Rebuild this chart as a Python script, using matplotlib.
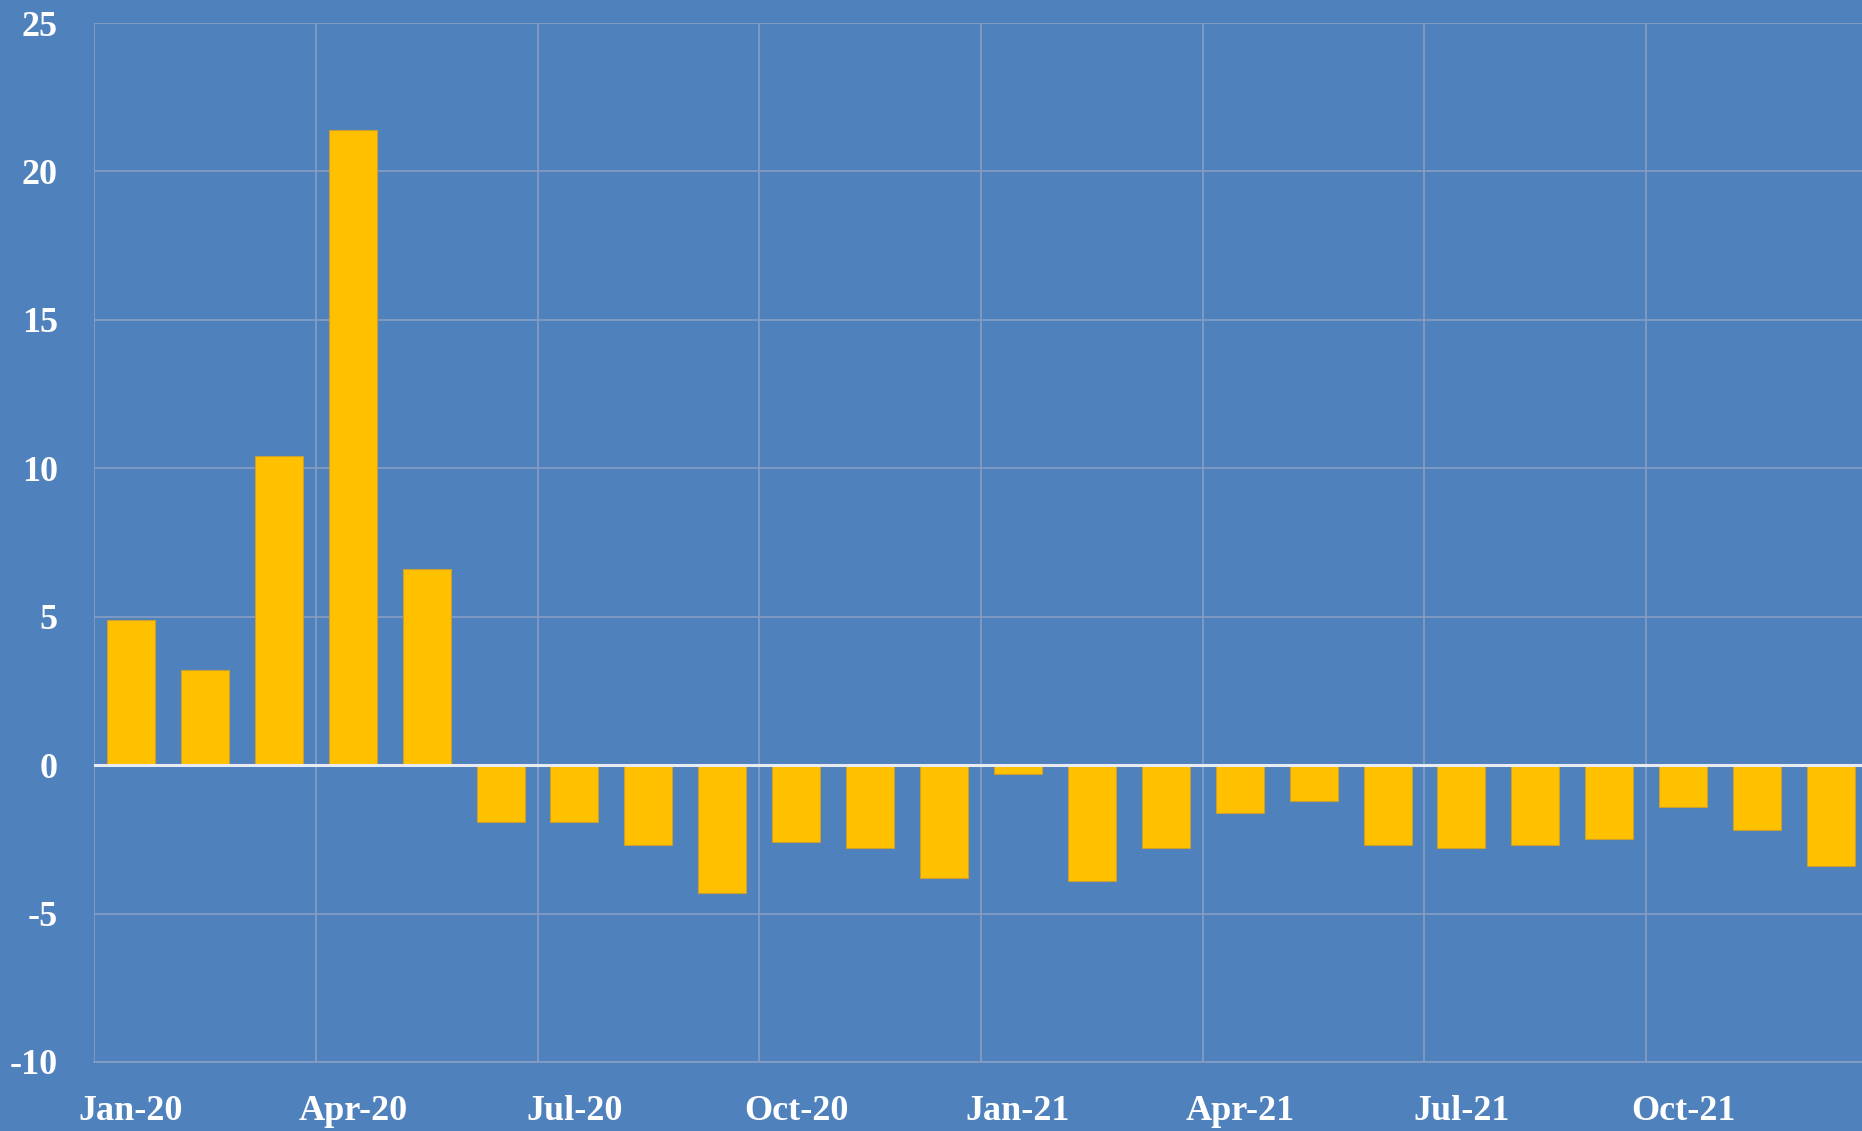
import matplotlib.pyplot as plt
import numpy as np

# monthly values, Jan-20 .. Dec-21
months = ["Jan-20", "Feb-20", "Mar-20", "Apr-20", "May-20", "Jun-20",
          "Jul-20", "Aug-20", "Sep-20", "Oct-20", "Nov-20", "Dec-20",
          "Jan-21", "Feb-21", "Mar-21", "Apr-21", "May-21", "Jun-21",
          "Jul-21", "Aug-21", "Sep-21", "Oct-21", "Nov-21", "Dec-21"]
values = [4.9, 3.2, 10.4, 21.4, 6.6, -1.9,
          -1.9, -2.7, -4.3, -2.6, -2.8, -3.8,
          -0.3, -3.9, -2.8, -1.6, -1.2, -2.7,
          -2.8, -2.7, -2.5, -1.4, -2.2, -3.4]
y_ticks = [-10, -5, 0, 5, 10, 15, 20, 25]

bg = "#4F81BD"
plt.rcParams['font.family'] = ['Liberation Serif', 'DejaVu Serif']

fig = plt.figure(figsize=(18.62, 11.31), dpi=100, facecolor=bg)
W, H = 1862, 1131
ax = fig.add_axes([94 / W, 1 - 1062 / H, (1868 - 94) / W, (1062 - 23) / H])
ax.set_facecolor(bg)

x = np.arange(len(values))
ax.bar(x, values, width=0.65, color="#FFC000", edgecolor="#C9A030",
       linewidth=0.8, zorder=3)

ax.set_xlim(-0.5, len(values) - 0.5)
ax.set_ylim(-10, 25)
ax.set_yticks(y_ticks)
ax.set_yticklabels([str(v) for v in y_ticks])

# labels every quarter, gridlines at the quarter boundaries
ax.set_xticks(x[::3])
ax.set_xticklabels(months[::3])
ax.set_xticks(np.arange(-0.5, len(values), 3), minor=True)

grid_c = "#879FC2"
ax.grid(axis="y", which="major", color=grid_c, linewidth=1.2, zorder=0)
ax.grid(axis="x", which="minor", color=grid_c, linewidth=1.2, zorder=0)
ax.axhline(0, color="#E8ECF2", linewidth=2.2, zorder=4)

for s in ["top", "right", "left"]:
    ax.spines[s].set_visible(False)
ax.spines["bottom"].set_color(grid_c)
ax.spines["bottom"].set_linewidth(1.2)

ax.tick_params(axis="both", which="both", length=0, colors="white",
               labelsize=26)
ax.tick_params(axis="y", pad=26)
ax.tick_params(axis="x", pad=24)
for lab in ax.get_xticklabels() + ax.get_yticklabels():
    lab.set_fontweight("bold")

fig.savefig("out.png", dpi=100, facecolor=bg)
